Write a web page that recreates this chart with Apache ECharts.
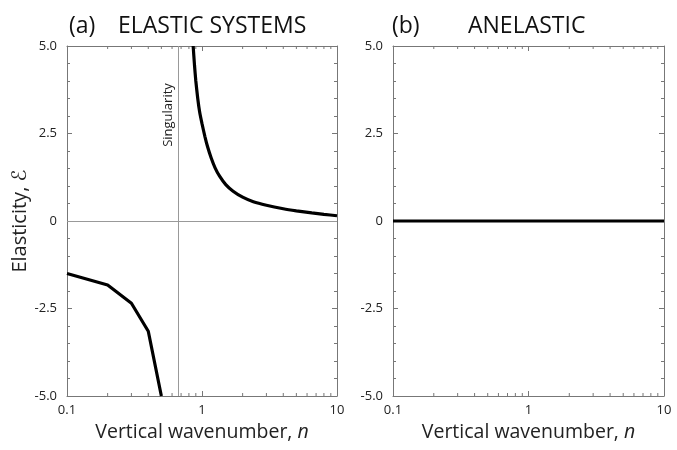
<!DOCTYPE html>
<html>
<head>
<meta charset="utf-8">
<script src="https://cdn.jsdelivr.net/npm/echarts@6/dist/echarts.min.js"></script>
<style>
html, body { margin: 0; background: #fff; }
#chart { width: 677px; height: 450px; }
</style>
</head>
<body>
<div id="chart"></div>
<script>
// (a) elastic: branch right of the singularity
const nUpper = [0.86, 0.88, 0.9, 0.93, 0.96, 1.0, 1.05, 1.1, 1.17, 1.25, 1.35, 1.5, 1.7, 2.0, 2.4, 3.0, 4.0, 5.0, 6.5, 8.0, 10]
const eUpper = [5.0, 4.45, 4.0, 3.5, 3.12, 2.78, 2.42, 2.12, 1.8, 1.52, 1.28, 1.04, 0.85, 0.68, 0.55, 0.45, 0.35, 0.29, 0.23, 0.19, 0.15]
// (a) elastic: branch left of the singularity
const nLower = [0.1, 0.2, 0.3, 0.4, 0.5]
const eLower = [-1.5, -1.83, -2.35, -3.15, -5.0]
// (b) anelastic
const nAnel = [0.1, 1, 10]
const eAnel = [0, 0, 0]

const singularity = 0.667
const minorN = [0.2, 0.3, 0.4, 0.5, 0.6, 0.7, 0.8, 0.9, 2, 3, 4, 5, 6, 7, 8, 9]
const yMin = -5, yMax = 5

const FONT = '"Open Sans", "DejaVu Sans", sans-serif'
const AX = '#777'

const pairs = (xs, ys) => xs.map((x, i) => [x, ys[i]])

function xAx(grid, bottom) {
    return {
        type: 'log', logBase: 10, min: 0.1, max: 10, gridIndex: grid,
        position: bottom ? 'bottom' : 'top',
        axisLine: { show: true, onZero: false, lineStyle: { color: AX, width: 1 } },
        axisTick: { show: true, inside: true, length: 5, lineStyle: { color: AX } },
        minorTick: { show: false },
        splitLine: { show: false },
        axisLabel: {
            show: bottom, margin: 8, color: '#222', fontFamily: FONT, fontSize: 13,
            formatter: v => String(+(+v).toPrecision(3))
        },
        name: bottom ? 'Vertical wavenumber, {i|n}' : '',
        nameLocation: 'middle', nameGap: 26,
        nameTextStyle: {
            color: '#222', fontFamily: FONT, fontSize: 19.5,
            rich: { i: { fontStyle: 'italic', fontFamily: FONT, fontSize: 19.5, color: '#222' } }
        }
    }
}

function yAx(grid, left, name) {
    return {
        type: 'value', min: yMin, max: yMax, interval: 2.5, gridIndex: grid,
        position: left ? 'left' : 'right',
        axisLine: { show: true, onZero: false, lineStyle: { color: AX, width: 1 } },
        axisTick: { show: true, inside: true, length: 5, lineStyle: { color: AX } },
        minorTick: { show: true, splitNumber: 5, length: 3, lineStyle: { color: AX } },
        splitLine: { show: false },
        axisLabel: {
            show: left, margin: 10, color: '#222', fontFamily: FONT, fontSize: 13,
            formatter: v => v === 0 ? '0' : v.toFixed(1)
        },
        name: name || '',
        nameLocation: 'middle', nameGap: 32,
        nameTextStyle: { color: '#222', fontFamily: FONT, fontSize: 20 }
    }
}

// little ticks at 2..9 on the log axes, top and bottom
function minorTicks(params, api) {
    const v = api.value(0)
    const b = api.coord([v, yMin])
    const t = api.coord([v, yMax])
    const st = { stroke: AX, lineWidth: 1 }
    return {
        type: 'group',
        children: [
            { type: 'line', shape: { x1: b[0], y1: b[1], x2: b[0], y2: b[1] - 3 }, style: st },
            { type: 'line', shape: { x1: t[0], y1: t[1], x2: t[0], y2: t[1] + 3 }, style: st }
        ]
    }
}

const lineBase = {
    type: 'line', showSymbol: false, symbol: 'none', silent: true,
    lineStyle: { color: '#000', width: 3.2 }
}

const TITLE = '23px ' + FONT

const chart = echarts.init(document.getElementById('chart'), null, { renderer: 'canvas' })
chart.setOption({
    animation: false,
    backgroundColor: '#fff',
    grid: [
        { left: 67, right: 340, top: 46, bottom: 54 },
        { left: 393, right: 13, top: 46, bottom: 54 }
    ],
    xAxis: [xAx(0, true), xAx(0, false), xAx(1, true), xAx(1, false)],
    yAxis: [yAx(0, true, 'Elasticity, ℰ'), yAx(0, false), yAx(1, true), yAx(1, false)],
    graphic: [
        { type: 'text', x: 69, y: 26, style: { text: '(a)', font: TITLE, fill: '#111', textVerticalAlign: 'middle' } },
        { type: 'text', x: 118, y: 26, style: { text: 'ELASTIC SYSTEMS', font: TITLE, fill: '#111', textVerticalAlign: 'middle' } },
        { type: 'text', x: 392, y: 26, style: { text: '(b)', font: TITLE, fill: '#111', textVerticalAlign: 'middle' } },
        { type: 'text', x: 468, y: 26, style: { text: 'ANELASTIC', font: TITLE, fill: '#111', textVerticalAlign: 'middle' } },
        { type: 'text', x: 168, y: 115, rotation: Math.PI / 2, style: { text: 'Singularity', font: '13px ' + FONT, fill: '#222', textAlign: 'center', textVerticalAlign: 'middle' } }
    ],
    series: [
        Object.assign({}, lineBase, {
            xAxisIndex: 0, yAxisIndex: 0, z: 3,
            smooth: 0.2,
            data: pairs(nUpper, eUpper),
            markLine: {
                silent: true, symbol: ['none', 'none'], label: { show: false },
                lineStyle: { color: '#999', width: 1, type: 'solid' },
                data: [{ yAxis: 0 }, { xAxis: singularity }]
            }
        }),
        Object.assign({}, lineBase, {
            xAxisIndex: 0, yAxisIndex: 0, z: 3,
            data: pairs(nLower, eLower)
        }),
        Object.assign({}, lineBase, {
            xAxisIndex: 2, yAxisIndex: 2, z: 3,
            data: pairs(nAnel, eAnel)
        }),
        {
            type: 'custom', xAxisIndex: 0, yAxisIndex: 0, silent: true,
            renderItem: minorTicks, data: minorN.map(v => [v, 0])
        },
        {
            type: 'custom', xAxisIndex: 2, yAxisIndex: 2, silent: true,
            renderItem: minorTicks, data: minorN.map(v => [v, 0])
        }
    ]
})
</script>
</body>
</html>
